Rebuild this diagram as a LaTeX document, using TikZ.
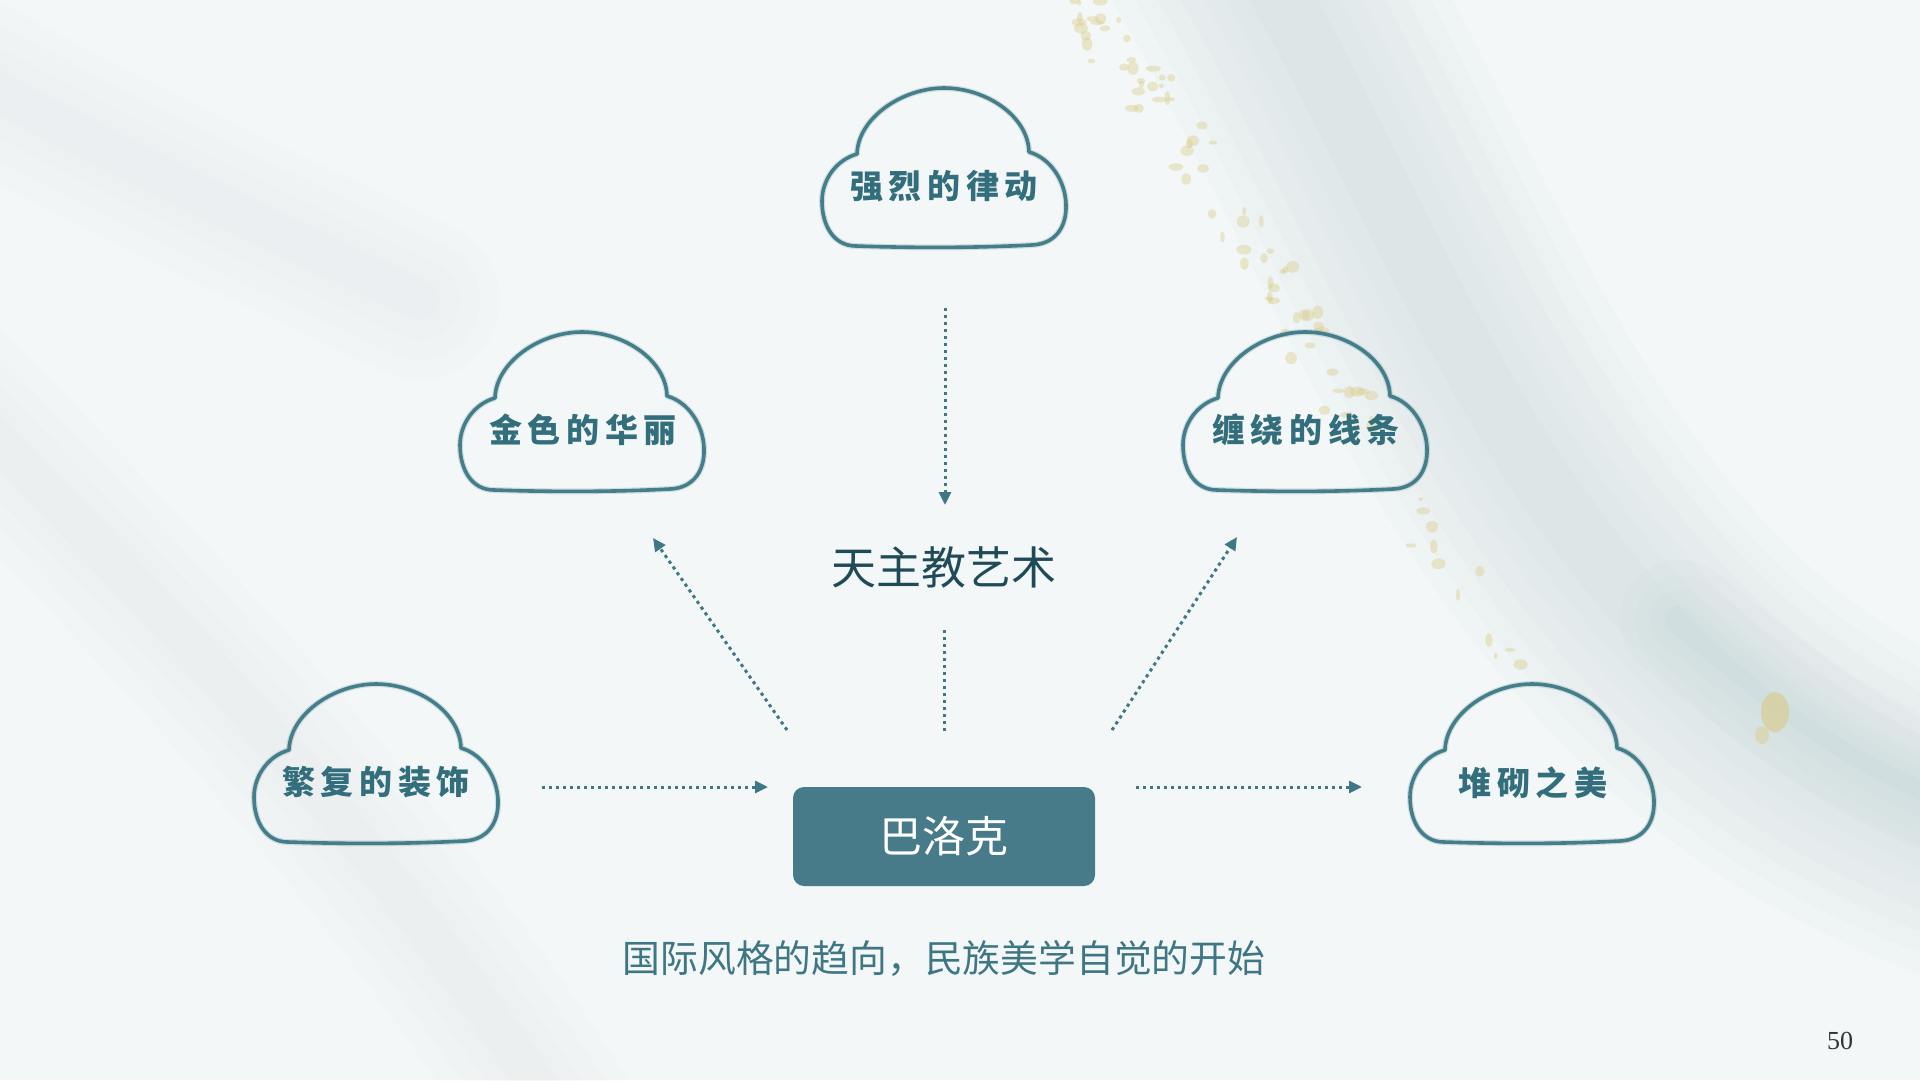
\documentclass[tikz,border=0pt]{standalone}
\usepackage{fontspec}
\setmainfont{Liberation Serif}
\newfontfamily\cjk{Noto Sans CJK SC}
\usetikzlibrary{arrows.meta}
\definecolor{bgc}{HTML}{F3F7F7}
\definecolor{cloudc}{HTML}{457E8B}
\definecolor{cloudt}{HTML}{326E7C}
\definecolor{boxc}{HTML}{477B8A}
\definecolor{titlec}{HTML}{1F4B56}
\definecolor{subc}{HTML}{3E7684}
\definecolor{arrc}{HTML}{3F7785}
\definecolor{goldc}{HTML}{D8CB86}
\definecolor{mist}{HTML}{93B0B4}
\definecolor{pagec}{HTML}{333333}
\tikzset{
  cloudline/.style={draw=cloudc, line width=3.6pt, line join=round},
  cloudsoft/.style={draw=cloudc, line width=6pt, opacity=0.2, line join=round},
  cloud/.pic={
    \foreach \cs in {cloudsoft,cloudline}{
    \path[\cs] (-88,78)
      .. controls (-30,80) and (30,80) .. (88,77)
      .. controls (112,76) and (123,58) .. (122,36)
      .. controls (121,12) and (106,-10) .. (85,-16)
      .. controls (84,-52) and (42,-80) .. (0,-80)
      .. controls (-42,-80) and (-86,-50) .. (-87,-14)
      .. controls (-108,-8) and (-122,12) .. (-122,33)
      .. controls (-122,58) and (-110,78) .. (-88,78) -- cycle;}
  },
  cloudtext/.style={font=\cjk\bfseries\fontsize{33}{36}\selectfont, text=cloudt, inner sep=0pt},
  arr/.style={draw=arrc, line width=3pt, dash pattern=on 3.2pt off 3.8pt,
    -{Triangle[length=13pt,width=12pt]}},
  plainarr/.style={draw=arrc, line width=3pt, dash pattern=on 3.2pt off 3.8pt},
  boxstyle/.style={fill=boxc, rounded corners=11pt, minimum width=302pt,
    minimum height=99pt, inner sep=0pt, text=white,
    font=\cjk\fontsize{43}{46}\selectfont},
}
\newcommand\ltsp{\hspace{5.5pt}}
\begin{document}
\begin{tikzpicture}[x=1pt,y=-1pt]
% background
\fill[bgc] (0,0) rectangle (1920,1080);
\useasboundingbox (0,0) rectangle (1920,1080);
\foreach \w in {300,260,220,180,140,100,60}{
  \draw[mist, line width=\w pt, opacity=0.03, line cap=round]
    (1250,-60) .. controls (1400,200) and (1480,450) .. (1680,650)
    .. controls (1780,750) and (1880,800) .. (1990,840);
}
\foreach \w in {120,90,60,30}{
  \draw[mist, line width=\w pt, opacity=0.035, line cap=round]
    (1680,620) .. controls (1780,700) and (1850,760) .. (1960,800);
}
\foreach \w in {160,120,80,40}{
  \draw[mist, line width=\w pt, opacity=0.018, line cap=round]
    (-60,380) .. controls (150,600) and (350,800) .. (560,1120);
  \draw[mist, line width=\w pt, opacity=0.015, line cap=round]
    (-60,60) .. controls (100,150) and (250,220) .. (420,300);
}
% gold flecks
\pgfmathsetseed{11}
\foreach \i in {1,...,90}{
  \pgfmathsetmacro\tt{rnd^1.3}
  \pgfmathsetmacro\gx{1078+470*\tt-40*\tt*\tt+28*rand}
  \pgfmathsetmacro\gy{660*\tt+18*rand}
  \pgfmathsetmacro\ga{2+6*rnd}
  \pgfmathsetmacro\gb{2+5*rnd}
  \fill[goldc, opacity=0.4] (\gx,\gy) ellipse ({\ga pt} and {\gb pt});
}
\fill[goldc, opacity=0.6] (1775,712) ellipse (14pt and 20pt);
\fill[goldc, opacity=0.45] (1762,735) ellipse (7pt and 9pt);
% clouds
\pic at (944,168) {cloud};
\pic at (582,412) {cloud};
\pic at (1305,412) {cloud};
\pic at (376,764) {cloud};
\pic at (1532,764) {cloud};
\node[cloudtext] (t1) at (944,186) {强\ltsp 烈\ltsp 的\ltsp 律\ltsp 动};
\node[cloudtext] (t2) at (583,430) {金\ltsp 色\ltsp 的\ltsp 华\ltsp 丽};
\node[cloudtext] (t3) at (1306,430) {缠\ltsp 绕\ltsp 的\ltsp 线\ltsp 条};
\node[cloudtext] (t4) at (376,782) {繁\ltsp 复\ltsp 的\ltsp 装\ltsp 饰};
\node[cloudtext] (t5) at (1533,783) {堆\ltsp 砌\ltsp 之\ltsp 美};
% center nodes
\node[font=\cjk\fontsize{45}{48}\selectfont, text=titlec, inner sep=0pt] (title) at (944,567) {天主教艺术};
\node[boxstyle] (box) at (944,836.5) {巴洛克};
\node[font=\cjk\fontsize{37.8}{40}\selectfont, text=subc, inner sep=0pt] (sub) at (944,958) {国际风格的趋向，民族美学自觉的开始};
\node[font=\fontsize{26}{28}\selectfont, text=pagec, inner sep=0pt] (page) at (1840,1041) {50};
% connector end points
\coordinate (a1s) at (945,308); \coordinate (a1e) at (945,505);
\coordinate (a2s) at (944,630); \coordinate (a2e) at (944,731);
\coordinate (a3s) at (787,730); \coordinate (a3e) at (653,538);
\coordinate (a4s) at (1112,730); \coordinate (a4e) at (1237,537);
\coordinate (a5s) at (542,787); \coordinate (a5e) at (768,787);
\coordinate (a6s) at (1136,787); \coordinate (a6e) at (1362,787);
\draw[arr] (a1s) -- (a1e);
\draw[plainarr] (a2s) -- (a2e);
\draw[arr] (a3s) -- (a3e);
\draw[arr] (a4s) -- (a4e);
\draw[arr] (a5s) -- (a5e);
\draw[arr] (a6s) -- (a6e);
\end{tikzpicture}
\end{document}
